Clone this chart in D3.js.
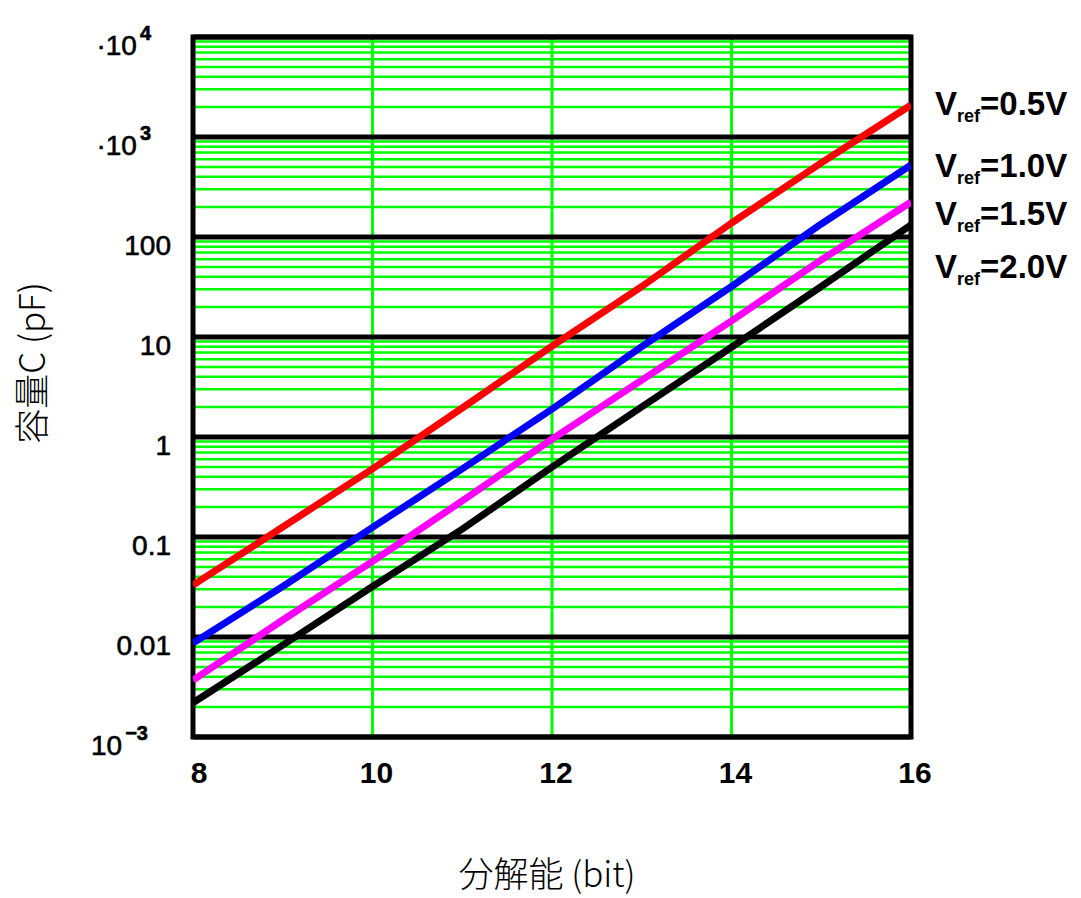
<!DOCTYPE html>
<html>
<head>
<meta charset="utf-8">
<script src="https://cdn.jsdelivr.net/npm/d3@7"></script>
<style>
  body { margin: 0; background: #fff; }
  svg { display: block; }
</style>
</head>
<body>
<div id="chart"></div>
<script>
// bits on the x axis
const bits = [8, 9, 10, 11, 12, 13, 14, 15, 16];
// capacitance (pF), one array per Vref
const vref05 = [0.033, 0.126, 0.48, 1.95, 8.1, 32, 138, 550, 2090];
const vref10 = [0.0087, 0.032, 0.125, 0.48, 1.9, 8.0, 32, 135, 525];
const vref15 = [0.0037, 0.0148, 0.057, 0.23, 0.95, 3.7, 14.5, 59, 224];
const vref20 = [0.0022, 0.0083, 0.032, 0.12, 0.5, 2.0, 7.9, 32, 132];
const seriesNames = ['=0.5V', '=1.0V', '=1.5V', '=2.0V'];
const seriesColors = ['#ff0000', '#0000ff', '#ff00ff', '#000000'];
const xTicks = [8, 10, 12, 14, 16];
const yMajor = [1e-3, 1e-2, 1e-1, 1, 10, 100, 1e3, 1e4];
const yLabels = [['10', '\u22123'], ['0.01'], ['0.1'], ['1'], ['10'], ['100'], ['\u00b710', '3'], ['\u00b710', '4']];

const width = 1081, height = 898;

const svg = d3.select('#chart').append('svg')
    .attr('width', width)
    .attr('height', height);

const x = d3.scaleLinear().domain([8, 16]).range([193, 911]);
const y = d3.scaleLog().domain([1e-3, 1e4]).range([737, 37]);

const grid = svg.append('g');

// green minor grid lines (2..9 in each decade)
const minors = [];
for (let e = -3; e < 4; e++) {
    for (let m = 2; m <= 9; m++) minors.push(m * Math.pow(10, e));
}
grid.selectAll('.minor')
    .data(minors)
    .enter().append('line')
    .attr('x1', x(8)).attr('x2', x(16))
    .attr('y1', d => y(d)).attr('y2', d => y(d))
    .attr('stroke', '#00ff00')
    .attr('stroke-width', 2.5);

// green vertical grid
grid.selectAll('.vgrid')
    .data([10, 12, 14])
    .enter().append('line')
    .attr('x1', d => x(d)).attr('x2', d => x(d))
    .attr('y1', y(1e4)).attr('y2', y(1e-3))
    .attr('stroke', '#00ff00')
    .attr('stroke-width', 3);

// black decade lines
grid.selectAll('.major')
    .data(yMajor)
    .enter().append('line')
    .attr('x1', x(8)).attr('x2', x(16))
    .attr('y1', d => y(d)).attr('y2', d => y(d))
    .attr('stroke', '#000')
    .attr('stroke-width', 5);

// frame
svg.append('rect')
    .attr('x', x(8)).attr('y', y(1e4))
    .attr('width', x(16) - x(8))
    .attr('height', y(1e-3) - y(1e4))
    .attr('fill', 'none')
    .attr('stroke', '#000')
    .attr('stroke-width', 5);

// curves
const allSeries = [vref05, vref10, vref15, vref20];
const line = d3.line()
    .x((d, i) => x(bits[i]))
    .y(d => y(d));

svg.append('clipPath').attr('id', 'clip')
    .append('rect')
    .attr('x', x(8)).attr('y', y(1e4))
    .attr('width', x(16) - x(8))
    .attr('height', y(1e-3) - y(1e4));

svg.append('g').attr('clip-path', 'url(#clip)')
    .selectAll('path')
    .data(allSeries)
    .enter().append('path')
    .attr('d', line)
    .attr('fill', 'none')
    .attr('stroke', (d, i) => seriesColors[i])
    .attr('stroke-width', 7)
    .attr('stroke-linejoin', 'round');

// y tick labels
const yt = svg.append('g')
    .style('font-family', '"Liberation Sans", Arial, sans-serif')
    .style('font-size', '28px')
    .attr('fill', '#000')
    .attr('stroke', '#000')
    .attr('stroke-width', 0.6);

yMajor.forEach((v, i) => {
    const lab = yLabels[i];
    const t = yt.append('text')
        .attr('y', y(v) + 18)
        .attr('text-anchor', 'end');
    if (lab.length === 1) {
        t.attr('x', 171).text(lab[0]);
    } else {
        t.attr('x', i === 0 ? 148 : 151);
        t.append('tspan').text(lab[0]);
        t.append('tspan')
            .attr('dy', -15)
            .attr('dx', 3)
            .style('font-size', '20px')
            .style('font-weight', 'bold')
            .text(lab[1]);
    }
});

// x tick labels
svg.append('g')
    .selectAll('text')
    .data(xTicks)
    .enter().append('text')
    .attr('x', d => x(d) + (d === 8 ? 6 : 4))
    .attr('y', 783)
    .attr('text-anchor', 'middle')
    .style('font-family', '"Liberation Sans", Arial, sans-serif')
    .style('font-size', '30px')
    .style('font-weight', 'bold')
    .text(d => d);

// axis titles
svg.append('text')
    .attr('x', 547)
    .attr('y', 887)
    .attr('text-anchor', 'middle')
    .style('font-family', '"Noto Sans CJK JP", sans-serif')
    .style('font-size', '35px')
    .style('font-weight', '300')
    .text('分解能 (bit)');

svg.append('text')
    .attr('transform', 'translate(45, 363) rotate(-90)')
    .attr('text-anchor', 'middle')
    .style('font-family', '"Noto Sans CJK JP", sans-serif')
    .style('font-size', '35px')
    .style('font-weight', '300')
    .text('容量C (pF)');

// legend
const legY = [115, 177, 225, 278];
const leg = svg.append('g')
    .style('font-family', '"Liberation Sans", Arial, sans-serif')
    .style('font-weight', 'bold')
    .style('font-size', '33px');

seriesNames.forEach((name, i) => {
    const t = leg.append('text').attr('x', 935).attr('y', legY[i]);
    t.append('tspan').text('V');
    t.append('tspan')
        .attr('dy', 7)
        .style('font-size', '18px')
        .text('ref');
    t.append('tspan')
        .attr('dy', -7)
        .text(name);
});
</script>
</body>
</html>
